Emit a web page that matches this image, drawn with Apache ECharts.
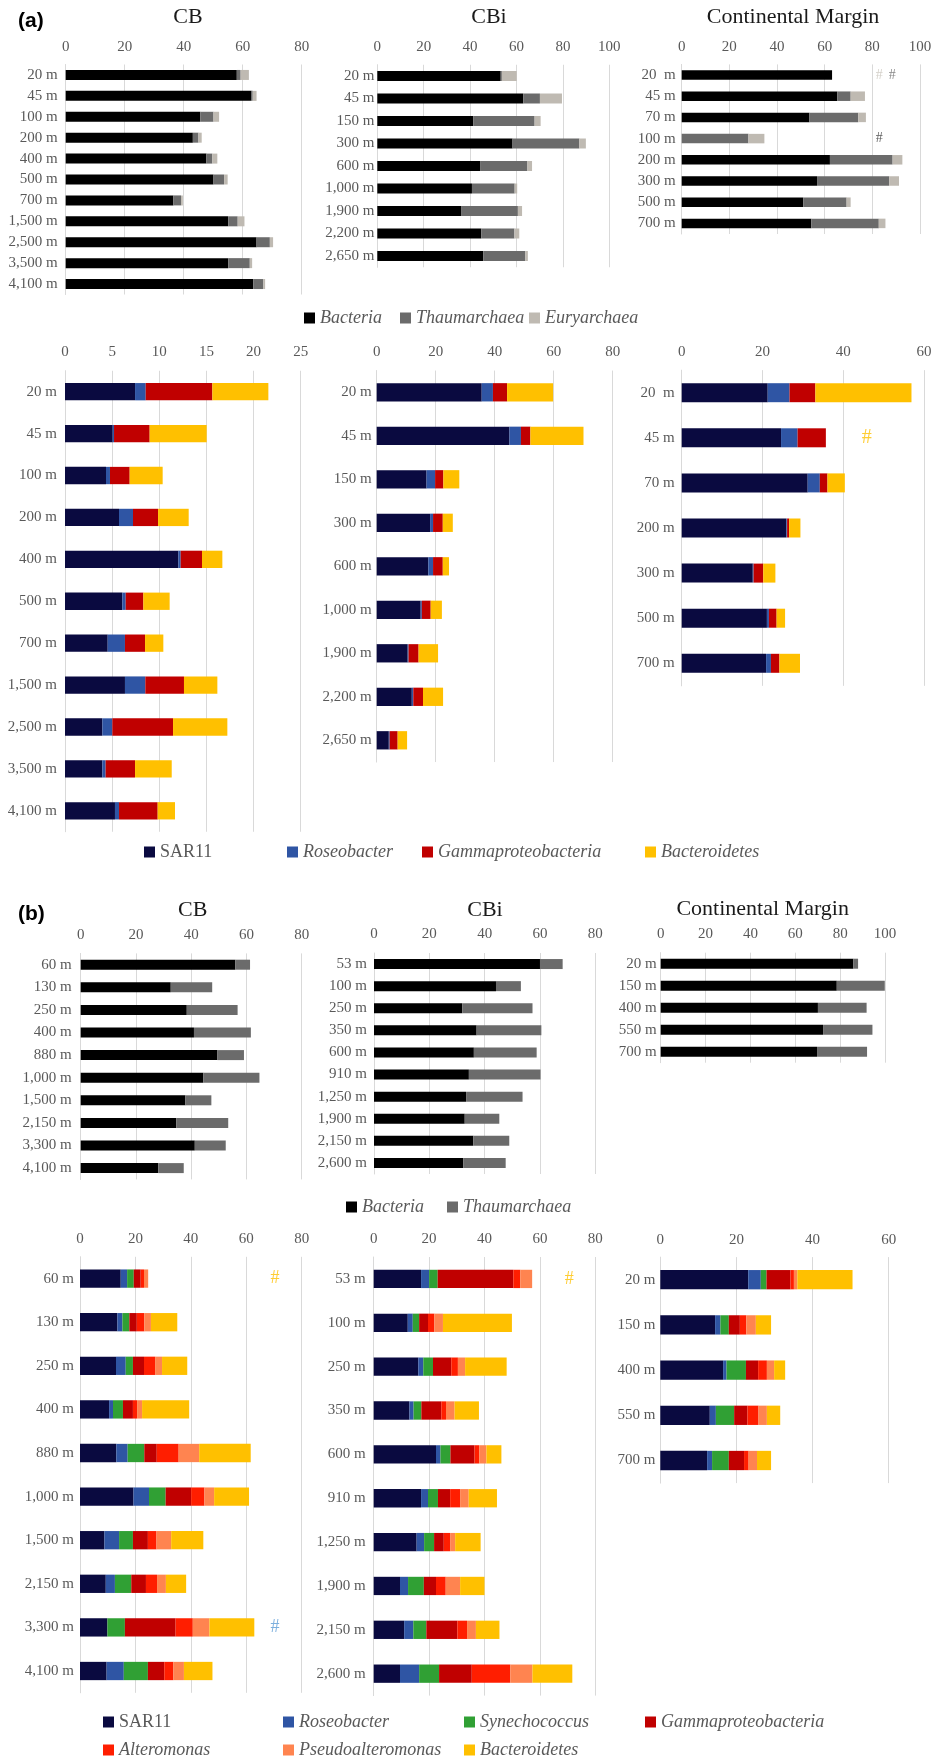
<!DOCTYPE html>
<html><head><meta charset="utf-8">
<script src="https://cdn.jsdelivr.net/npm/echarts@6/dist/echarts.min.js"></script>
<style>html,body{margin:0;padding:0;background:#fff}#c{width:936px;height:1764px}</style>
</head><body><div id="c"></div>
<script>
// ---------- categories ----------
const aCatCB  = ['20 m','45 m','100 m','200 m','400 m','500 m','700 m','1,500 m','2,500 m','3,500 m','4,100 m'];
const aCatCBi = ['20 m','45 m','150 m','300 m','600 m','1,000 m','1,900 m','2,200 m','2,650 m'];
const aCatCM  = ['20  m','45 m','70 m','100 m','200 m','300 m','500 m','700 m'];
const aCatCM2 = ['20  m','45 m','70 m','200 m','300 m','500 m','700 m'];
const bCatCB  = ['60 m','130 m','250 m','400 m','880 m','1,000 m','1,500 m','2,150 m','3,300 m','4,100 m'];
const bCatCBi = ['53 m','100 m','250 m','350 m','600 m','910 m','1,250 m','1,900 m','2,150 m','2,600 m'];
const bCatCM  = ['20 m','150 m','400 m','550 m','700 m'];

// ---------- (a) domains ----------
const a1Bacteria = [58.0,63.0,45.6,43.1,47.7,50.1,36.5,55.1,64.7,55.1,63.6];
const a1Thaum    = [1.3,0.4,4.5,1.9,2.0,3.6,2.6,3.2,4.5,7.3,3.4];
const a1Eury     = [2.8,1.3,1.9,1.1,1.7,1.2,0.6,2.3,1.1,0.8,0.6];
const a2Bacteria = [53.2,62.9,41.4,58.3,44.3,40.8,36.1,44.8,45.7];
const a2Thaum    = [0.5,7.2,26.4,28.8,20.4,18.4,24.5,14.3,18.1];
const a2Eury     = [6.4,9.5,2.6,2.8,2.0,1.1,1.8,2.1,1.1];
const a3Bacteria = [63.1,65.3,53.6,0,62.2,56.8,51.0,54.4];
const a3Thaum    = [0,5.6,20.5,28.0,26.3,30.3,18.2,28.3];
const a3Eury     = [0,6.0,3.2,6.7,4.1,4.1,1.7,2.8];
const a3Missing  = [['20  m','Euryarchaea'],['20  m','Thaumarchaea'],['100 m','Bacteria']];

// ---------- (a) groups ----------
const a4SAR11 = [7.43,5.06,4.35,5.73,12.02,6.08,4.53,6.36,3.96,3.96,5.30];
const a4Roseo = [1.13,0.14,0.42,1.48,0.25,0.36,1.83,2.16,1.06,0.35,0.43];
const a4Gamma = [7.07,3.78,2.09,2.66,2.26,1.87,2.13,4.10,6.44,3.12,4.10];
const a4Bact  = [5.94,6.05,3.50,3.25,2.16,2.79,1.94,3.54,5.76,3.89,1.84];
const a5SAR11 = [35.6,45.0,16.9,18.1,17.5,14.9,10.5,11.9,4.1];
const a5Roseo = [3.8,3.9,2.9,1.0,1.6,0.4,0.3,0.5,0.3];
const a5Gamma = [4.8,3.2,2.8,3.3,3.3,3.0,3.4,3.3,2.7];
const a5Bact  = [15.6,18.0,5.4,3.4,2.1,3.8,6.6,6.8,3.2];
const a6SAR11 = [21.3,24.6,31.2,25.9,17.6,21.1,20.9];
const a6Roseo = [5.4,4.1,3.0,0.2,0.2,0.5,1.2];
const a6Gamma = [6.4,7.0,1.9,0.5,2.4,1.9,2.1];
const a6Bact  = [23.8,0,4.3,2.8,3.0,2.1,5.1];
const a6Missing = [['45 m','Bacteroidetes']];

// ---------- (b) domains ----------
const b1Bacteria = [56.0,32.6,38.4,41.0,49.5,44.4,37.9,34.6,41.3,28.1];
const b1Thaum    = [5.3,15.0,18.4,20.6,9.6,20.3,9.4,18.8,11.2,9.2];
const b2Bacteria = [60.0,44.1,31.9,37.1,36.1,34.3,33.3,32.8,35.9,32.3];
const b2Thaum    = [8.2,9.0,25.4,23.4,22.7,25.9,20.4,12.5,13.0,15.3];
const b3Bacteria = [85.9,78.5,70.1,72.4,69.7];
const b3Thaum    = [2.1,21.4,21.7,22.0,22.3];

// ---------- (b) groups ----------
const b4SAR11  = [14.7,13.5,13.0,10.5,13.1,19.3,8.8,9.3,9.9,9.6];
const b4Roseo  = [2.3,1.8,3.5,1.4,4.1,5.6,5.3,3.3,0,6.2];
const b4Syn    = [2.4,2.5,2.6,3.6,6.0,6.0,5.0,5.9,6.3,8.7];
const b4Gamma  = [2.5,2.7,4.0,3.6,4.5,9.2,5.4,5.3,18.3,5.9];
const b4Alt    = [1.2,2.7,4.0,1.5,7.9,4.8,3.1,4.0,6.2,3.3];
const b4Pseudo = [1.5,2.4,2.5,1.8,7.4,3.5,5.3,3.2,6.0,3.8];
const b4Bact   = [0,9.5,9.1,17.0,18.6,12.6,11.6,7.3,16.2,10.3];
const b4Missing = [['60 m','Bacteroidetes'],['3,300 m','Roseobacter']];
const b5SAR11  = [17.1,12.3,16.1,12.9,22.5,17.1,15.5,9.5,11.0,9.5];
const b5Roseo  = [2.9,1.8,1.8,1.5,1.6,2.5,2.7,2.9,3.3,6.9];
const b5Syn    = [3.1,2.3,3.5,2.8,3.6,3.6,3.6,5.7,4.7,7.2];
const b5Gamma  = [27.3,3.2,6.6,7.2,8.7,4.4,3.5,4.4,11.2,11.8];
const b5Alt    = [2.5,2.3,2.4,1.7,1.7,3.6,2.3,3.5,3.5,13.9];
const b5Pseudo = [4.3,3.1,2.6,3.1,2.6,3.1,1.8,5.2,3.2,8.0];
const b5Bact   = [0,24.9,15.0,8.8,5.4,10.2,9.2,8.8,8.5,14.4];
const b5Missing = [['53 m','Bacteroidetes']];
const b6SAR11  = [23.1,14.4,16.5,13.0,12.3];
const b6Roseo  = [3.3,1.4,0.9,1.6,1.3];
const b6Syn    = [1.5,2.2,5.1,4.8,4.4];
const b6Gamma  = [6.3,2.9,3.2,3.5,4.0];
const b6Alt    = [0.9,1.7,2.3,2.9,1.2];
const b6Pseudo = [0.9,2.5,1.9,2.2,2.2];
const b6Bact   = [14.5,4.0,2.9,3.5,3.7];

// ---------- styles ----------
const SERIF = '"Liberation Serif","Times New Roman",serif';
const colors = {
  'Bacteria':'#000000','Thaumarchaea':'#6b6b6b','Euryarchaea':'#bfbab2',
  'SAR11':'#0a0a40','Roseobacter':'#2f55a4','Synechococcus':'#30a034',
  'Gammaproteobacteria':'#c00000','Alteromonas':'#ff1e00','Pseudoalteromonas':'#ff8450','Bacteroidetes':'#ffc000'
};
const noteColors = {'Bacteria':'#333333','Thaumarchaea':'#6b6b6b','Euryarchaea':'#c9c4bc','Bacteroidetes':'#ffc000','Roseobacter':'#5b9bd5'};

const panels = [
  {cats:aCatCB, ser:[['Bacteria',a1Bacteria],['Thaumarchaea',a1Thaum],['Euryarchaea',a1Eury]],
   g:[65.7,64.5,236,230], max:80, iv:20, bw:10, lm:8, tm:10},
  {cats:aCatCBi, ser:[['Bacteria',a2Bacteria],['Thaumarchaea',a2Thaum],['Euryarchaea',a2Eury]],
   g:[377.3,64.75,232,202.5], max:100, iv:20, bw:10, lm:3, tm:10},
  {cats:aCatCM, ser:[['Bacteria',a3Bacteria],['Thaumarchaea',a3Thaum],['Euryarchaea',a3Eury]],
   g:[681.7,64.4,238.3,169.6], max:100, iv:20, bw:9.5, lm:6, tm:10,
   notes:a3Missing, nx:82.9, ndx:5.5, nfs:14},
  {cats:aCatCB, ser:[['SAR11',a4SAR11],['Roseobacter',a4Roseo],['Gammaproteobacteria',a4Gamma],['Bacteroidetes',a4Bact]],
   g:[65,370.75,235.7,461], max:25, iv:5, bw:17.3, lm:8, tm:11},
  {cats:aCatCBi, ser:[['SAR11',a5SAR11],['Roseobacter',a5Roseo],['Gammaproteobacteria',a5Gamma],['Bacteroidetes',a5Bact]],
   g:[376.7,370.55,236,391.5], max:80, iv:20, bw:18.3, lm:5, tm:11},
  {cats:aCatCM2, ser:[['SAR11',a6SAR11],['Roseobacter',a6Roseo],['Gammaproteobacteria',a6Gamma],['Bacteroidetes',a6Bact]],
   g:[681.7,370.15,242.3,315.7], max:60, iv:20, bw:19, lm:7, tm:11,
   notes:a6Missing, nx:45.8, ndx:0, nfs:20},
  {cats:bCatCB, ser:[['Bacteria',b1Bacteria],['Thaumarchaea',b1Thaum]],
   g:[80.7,953.4,221,226], max:80, iv:20, bw:10, lm:9, tm:11},
  {cats:bCatCBi, ser:[['Bacteria',b2Bacteria],['Thaumarchaea',b2Thaum]],
   g:[374,953,221.3,221], max:80, iv:20, bw:10, lm:7, tm:11},
  {cats:bCatCM, ser:[['Bacteria',b3Bacteria],['Thaumarchaea',b3Thaum]],
   g:[660.7,952.7,224.3,110], max:100, iv:20, bw:10, lm:4, tm:11},
  {cats:bCatCB, ser:[['SAR11',b4SAR11],['Roseobacter',b4Roseo],['Synechococcus',b4Syn],['Gammaproteobacteria',b4Gamma],['Alteromonas',b4Alt],['Pseudoalteromonas',b4Pseudo],['Bacteroidetes',b4Bact]],
   g:[80,1256.8,221.7,436], max:80, iv:20, bw:18.3, lm:6, tm:10,
   notes:b4Missing, nx:70.4, ndx:0, nfs:18},
  {cats:bCatCBi, ser:[['SAR11',b5SAR11],['Roseobacter',b5Roseo],['Synechococcus',b5Syn],['Gammaproteobacteria',b5Gamma],['Alteromonas',b5Alt],['Pseudoalteromonas',b5Pseudo],['Bacteroidetes',b5Bact]],
   g:[373.7,1257,221.6,438.6], max:80, iv:20, bw:18.3, lm:8, tm:10,
   notes:b5Missing, nx:70.6, ndx:0, nfs:18},
  {cats:bCatCM, ser:[['SAR11',b6SAR11],['Roseobacter',b6Roseo],['Synechococcus',b6Syn],['Gammaproteobacteria',b6Gamma],['Alteromonas',b6Alt],['Pseudoalteromonas',b6Pseudo],['Bacteroidetes',b6Bact]],
   g:[660.3,1257.1,228.4,226], max:60, iv:20, bw:19.3, lm:5, tm:10}
];

const grids=[], xAxes=[], yAxes=[], series=[];
panels.forEach((p,i)=>{
  grids.push({left:p.g[0], top:p.g[1], width:p.g[2], height:p.g[3], containLabel:false, outerBoundsMode:'none'});
  xAxes.push({type:'value', gridIndex:i, position:'top', min:0, max:p.max, interval:p.iv,
    axisLine:{show:false}, axisTick:{show:false},
    splitLine:{show:true, lineStyle:{color:'#d9d9d9', width:1}},
    axisLabel:{margin:p.tm, fontSize:15, fontFamily:SERIF, color:'#595959'}});
  yAxes.push({type:'category', gridIndex:i, inverse:true, data:p.cats,
    axisLine:{show:true, lineStyle:{color:'#d9d9d9', width:1}}, axisTick:{show:false}, splitLine:{show:false},
    axisLabel:{interval:0, margin:p.lm, fontSize:15, fontFamily:SERIF, color:'#595959'}});
  p.ser.forEach(([name,data])=>{
    series.push({type:'bar', name, data, stack:'s'+i, xAxisIndex:i, yAxisIndex:i, barWidth:p.bw,
      itemStyle:{color:colors[name]}, emphasis:{disabled:true}, silent:true});
  });
  if (p.notes) {
    const seen = {};
    p.notes.forEach(([cat,name])=>{
      const k = seen[cat]||0; seen[cat]=k+1;
      series.push({type:'scatter', name:'#'+name, xAxisIndex:i, yAxisIndex:i, silent:true,
        data:[[p.nx + k*p.ndx, cat]], symbolSize:1, itemStyle:{color:'rgba(0,0,0,0)'},
        label:{show:true, formatter:'#', position:'inside', color:noteColors[name], fontSize:p.nfs, fontFamily:SERIF}});
    });
  }
});

const legendItems = [
  ['Bacteria',304,318,true],['Thaumarchaea',400,318,true],['Euryarchaea',529,318,true],
  ['SAR11',144,852,false],['Roseobacter',287,852,true],['Gammaproteobacteria',422,852,true],['Bacteroidetes',645,852,true],
  ['Bacteria',346,1207,true],['Thaumarchaea',447,1207,true],
  ['SAR11',103,1722,false],['Roseobacter',283,1722,true],['Synechococcus',464,1722,true],['Gammaproteobacteria',645,1722,true],
  ['Alteromonas',103,1750,true],['Pseudoalteromonas',283,1750,true],['Bacteroidetes',464,1750,true]
];
const legends = legendItems.map(([name,x,y,it])=>({
  left:x, top:y-9, padding:0, itemWidth:11, itemHeight:11, icon:'rect', itemGap:0, selectedMode:false,
  data:[name], textStyle:{fontFamily:SERIF, fontSize:18, color:'#595959', fontStyle: it?'italic':'normal'}
}));

const titles = [['CB',188,17],['CBi',489,17],['Continental Margin',793,17],
                ['CB',192.7,910],['CBi',485,910],['Continental Margin',762.7,909]];
const graphic = titles.map(([t,x,y])=>({type:'text', x, y, silent:true,
  style:{text:t, fontSize:22, fontFamily:SERIF, fill:'#1a1a1a', align:'center', verticalAlign:'middle'}}));
graphic.push({type:'text', x:18, y:21, style:{text:'(a)', fontSize:21, fontWeight:'bold', fontFamily:'"Liberation Sans",Arial,sans-serif', fill:'#000', align:'left', verticalAlign:'middle'}});
graphic.push({type:'text', x:18, y:914, style:{text:'(b)', fontSize:21, fontWeight:'bold', fontFamily:'"Liberation Sans",Arial,sans-serif', fill:'#000', align:'left', verticalAlign:'middle'}});

const chart = echarts.init(document.getElementById('c'), null, {renderer:'canvas', width:936, height:1764});
chart.setOption({
  animation:false, backgroundColor:'#ffffff',
  grid:grids, xAxis:xAxes, yAxis:yAxes, series, legend:legends, graphic
});
</script></body></html>
